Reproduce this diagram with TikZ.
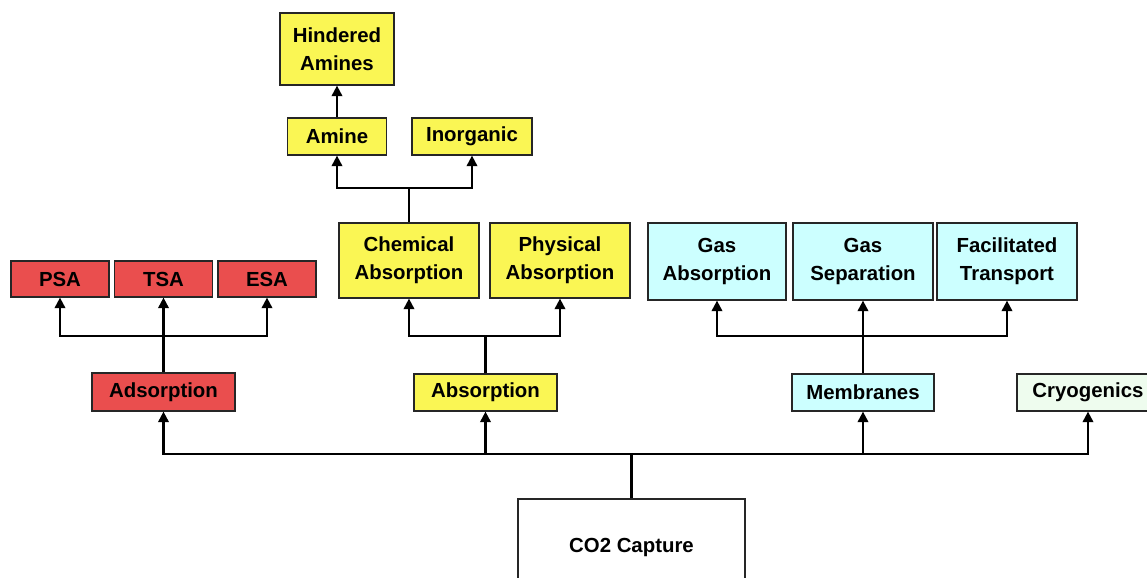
\documentclass[tikz,border=0pt]{standalone}
\usepackage{fontspec}
\setmainfont{Liberation Sans}
\usetikzlibrary{arrows.meta}
\definecolor{adsred}{RGB}{234,78,78}
\definecolor{absyellow}{RGB}{250,246,84}
\definecolor{memcyan}{RGB}{204,255,255}
\definecolor{cryogreen}{RGB}{238,252,238}
\tikzset{
    box/.style={draw=black!85, line width=0.9pt, align=center, inner sep=0pt,
        font=\fontsize{14.5}{19.9}\selectfont\bfseries},
    sz/.style 2 args={minimum width=#1*0.025cm, minimum height=#2*0.025cm},
    redbox/.style={box, fill=adsred},
    yellowbox/.style={box, fill=absyellow},
    cyanbox/.style={box, fill=memcyan},
    greenbox/.style={box, fill=cryogreen},
    trunk/.style={draw=black, line width=1.5pt},
    arr/.style={trunk, -{Triangle[width=7.5pt,length=7.5pt]}}
}
\begin{document}
\begin{tikzpicture}[x=0.025cm,y=-0.025cm]
        \useasboundingbox (0,0) rectangle (1147,578);
        % root
        \node[box, sz={227}{96}] (co2) at (631.5,547) {CO2 Capture};
        % first level
        \node[redbox, sz={143}{38}] (adsorption) at (163.5,392) {Adsorption};
        \node[yellowbox, sz={143}{37}] (absorption) at (485.5,392.5) {Absorption};
        \node[cyanbox, sz={142}{37}] (membranes) at (863,392.5) {Membranes};
        \node[greenbox, sz={142}{37}] (cryogenics) at (1088,392.5) {Cryogenics};
        % adsorption
        \node[redbox, sz={98}{36}] (psa) at (60,279) {PSA};
        \node[redbox, sz={98}{36}] (tsa) at (163.5,279) {TSA};
        \node[redbox, sz={98}{36}] (esa) at (267,279) {ESA};
        % absorption
        \node[yellowbox, sz={140}{75}] (chemical) at (409,260.5) {Chemical\\Absorption};
        \node[yellowbox, sz={140}{75}] (physical) at (560,260.5) {Physical\\Absorption};
        \node[yellowbox, sz={99}{37}] (amine) at (337,136.5) {Amine};
        \node[yellowbox, sz={120}{37}] (inorganic) at (472,136.5) {Inorganic};
        \node[yellowbox, sz={114}{72}] (hindered) at (337,49) {Hindered\\Amines};
        % membranes
        \node[cyanbox, sz={138}{77}] (gasabs) at (717,261.5) {Gas\\Absorption};
        \node[cyanbox, sz={140}{77}] (gassep) at (863,261.5) {Gas\\Separation};
        \node[cyanbox, sz={140}{77}] (facil) at (1007,261.5) {Facilitated\\Transport};

        \path[trunk] (co2.north) -- ++(0,-44) coordinate (mainbus);
        \draw[arr] (mainbus) -| (adsorption.south);
        \draw[arr] (mainbus) -| (absorption.south);
        \draw[arr] (mainbus) -| (membranes.south);
        \draw[arr] (mainbus) -| (cryogenics.south);

        \path[trunk] (adsorption.north) -- ++(0,-36) coordinate (adsbus);
        \draw[arr] (adsbus) -| (psa.south);
        \draw[arr] (adsbus) -- (tsa.south);
        \draw[arr] (adsbus) -| (esa.south);

        \path[trunk] (absorption.north) -- ++(0,-37) coordinate (absbus);
        \draw[arr] (absbus) -| (chemical.south);
        \draw[arr] (absbus) -| (physical.south);

        \path[trunk] (chemical.north) -- ++(0,-34) coordinate (chembus);
        \draw[arr] (chembus) -| (amine.south);
        \draw[arr] (chembus) -| (inorganic.south);
        \draw[arr] (amine.north) -- (hindered.south);

        \path[trunk] (membranes.north) -- ++(0,-37) coordinate (membus);
        \draw[arr] (membus) -| (gasabs.south);
        \draw[arr] (membus) -- (gassep.south);
        \draw[arr] (membus) -| (facil.south);
\end{tikzpicture}
\end{document}
